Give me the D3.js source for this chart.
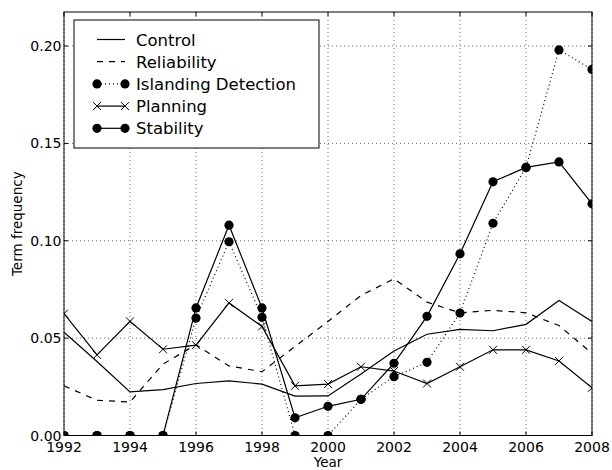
<!DOCTYPE html>
<html>
<head>
<meta charset="utf-8">
<script src="https://d3js.org/d3.v7.min.js"></script>
<style>
  body { margin: 0; background: #fff; }
  svg { font-family: "DejaVu Sans", sans-serif; }
</style>
</head>
<body>
<div id="chart"></div>
<script>
// data
var years = d3.range(1992, 2009);
var control     = [0.053, 0.038, 0.0224, 0.0236, 0.0267, 0.0281, 0.0264, 0.0202, 0.0203, 0.0316, 0.0434, 0.052, 0.0545, 0.0538, 0.0571, 0.0693, 0.0586];
var reliability = [0.0255, 0.0181, 0.0172, 0.0367, 0.0466, 0.0357, 0.0328, 0.0457, 0.0586, 0.0719, 0.0805, 0.0685, 0.063, 0.0643, 0.0630, 0.0565, 0.0422];
var islanding   = [0, 0, 0, 0, 0.0603, 0.0995, 0.0607, 0, 0, 0.0186, 0.0302, 0.0376, 0.0629, 0.109, 0.1377, 0.198, 0.188];
var planning    = [0.0626, 0.0414, 0.0586, 0.0443, 0.0464, 0.0681, 0.056, 0.0255, 0.0264, 0.0353, 0.0331, 0.0267, 0.0353, 0.044, 0.044, 0.0383, 0.0245];
var stability   = [0, 0, 0, 0, 0.0655, 0.108, 0.0655, 0.0091, 0.015, 0.0186, 0.0371, 0.0612, 0.0933, 0.1303, 0.1377, 0.1405, 0.119];
var xTicks = [1992, 1994, 1996, 1998, 2000, 2002, 2004, 2006, 2008];
var yTicks = [0, 0.05, 0.10, 0.15, 0.20];

var series = [
  {name: "Control", values: control, dash: null, marker: null},
  {name: "Reliability", values: reliability, dash: "6,6", marker: null},
  {name: "Islanding Detection", values: islanding, dash: "1,3", marker: "dot"},
  {name: "Planning", values: planning, dash: null, marker: "x"},
  {name: "Stability", values: stability, dash: null, marker: "dot"}
];

var W = 612, H = 470;
var pl = 64, pr = 592, pt = 12, pb = 435.5;

var x = d3.scaleLinear().domain([1992, 2008]).range([pl, pr]);
var y = d3.scaleLinear().domain([0, 0.2175]).range([pb, pt]);

var svg = d3.select("#chart").append("svg")
  .attr("width", W).attr("height", H);

svg.append("defs").append("clipPath").attr("id", "clip")
  .append("rect")
  .attr("x", pl).attr("y", pt)
  .attr("width", pr - pl).attr("height", pb - pt);

// grid
var grid = svg.append("g");
grid.selectAll("line.gx").data(xTicks).enter().append("line")
  .attr("x1", function(d) { return x(d); }).attr("x2", function(d) { return x(d); })
  .attr("y1", pt).attr("y2", pb)
  .attr("stroke", "#000").attr("stroke-width", 0.6).attr("stroke-dasharray", "1,3");
grid.selectAll("line.gy").data(yTicks).enter().append("line")
  .attr("y1", function(d) { return y(d); }).attr("y2", function(d) { return y(d); })
  .attr("x1", pl).attr("x2", pr)
  .attr("stroke", "#000").attr("stroke-width", 0.6).attr("stroke-dasharray", "1,3");

// lines
var plot = svg.append("g").attr("clip-path", "url(#clip)");
var line = d3.line()
  .x(function(d, i) { return x(years[i]); })
  .y(function(d) { return y(d); });

function drawMarker(g, type, cx, cy) {
  if (type == "dot") {
    g.append("circle").attr("cx", cx).attr("cy", cy).attr("r", 4.6).attr("fill", "#000");
  } else if (type == "x") {
    g.append("path")
      .attr("d", "M" + (cx - 4) + "," + (cy - 4) + "L" + (cx + 4) + "," + (cy + 4) +
                 "M" + (cx - 4) + "," + (cy + 4) + "L" + (cx + 4) + "," + (cy - 4))
      .attr("stroke", "#000").attr("stroke-width", 1).attr("fill", "none");
  }
}

series.forEach(function(s) {
  plot.append("path")
    .datum(s.values)
    .attr("d", line)
    .attr("fill", "none")
    .attr("stroke", "#000")
    .attr("stroke-width", 1.2)
    .attr("stroke-dasharray", s.dash);
  if (s.marker) {
    s.values.forEach(function(v, i) {
      drawMarker(plot, s.marker, x(years[i]), y(v));
    });
  }
});

// frame
svg.append("rect")
  .attr("x", pl).attr("y", pt)
  .attr("width", pr - pl).attr("height", pb - pt)
  .attr("fill", "none").attr("stroke", "#000").attr("stroke-width", 1);

// ticks (inward, all four sides)
var axes = svg.append("g").attr("stroke", "#000").attr("stroke-width", 1);
xTicks.forEach(function(t) {
  axes.append("line").attr("x1", x(t)).attr("x2", x(t)).attr("y1", pb).attr("y2", pb - 4);
  axes.append("line").attr("x1", x(t)).attr("x2", x(t)).attr("y1", pt).attr("y2", pt + 4);
});
yTicks.forEach(function(t) {
  axes.append("line").attr("y1", y(t)).attr("y2", y(t)).attr("x1", pl).attr("x2", pl + 4);
  axes.append("line").attr("y1", y(t)).attr("y2", y(t)).attr("x1", pr).attr("x2", pr - 4);
});

// tick labels
svg.selectAll("text.xt").data(xTicks).enter().append("text")
  .attr("x", function(d) { return x(d); })
  .attr("y", pb + 16)
  .attr("text-anchor", "middle")
  .style("font-size", "14px")
  .text(function(d) { return d; });
svg.selectAll("text.yt").data(yTicks).enter().append("text")
  .attr("x", pl - 2.5)
  .attr("y", function(d) { return y(d) + 5; })
  .attr("text-anchor", "end")
  .style("font-size", "14px")
  .text(function(d) { return d.toFixed(2); });

// axis labels
svg.append("text")
  .attr("x", (pl + pr) / 2).attr("y", 467)
  .attr("text-anchor", "middle")
  .style("font-size", "13.5px")
  .text("Year");
svg.append("text")
  .attr("transform", "translate(22," + ((pt + pb) / 2) + ") rotate(-90)")
  .attr("text-anchor", "middle")
  .style("font-size", "13.5px")
  .text("Term frequency");

// legend
var lg = svg.append("g");
lg.append("rect")
  .attr("x", 74).attr("y", 20).attr("width", 245).attr("height", 128)
  .attr("fill", "#fff").attr("stroke", "#000").attr("stroke-width", 1);
series.forEach(function(s, i) {
  var ly = 39.5 + i * 22.2;
  lg.append("line")
    .attr("x1", 97).attr("x2", 125).attr("y1", ly).attr("y2", ly)
    .attr("stroke", "#000").attr("stroke-width", 1.2)
    .attr("stroke-dasharray", s.dash);
  if (s.marker) {
    drawMarker(lg, s.marker, 97, ly);
    drawMarker(lg, s.marker, 125, ly);
  }
  lg.append("text")
    .attr("x", 136).attr("y", ly + 6)
    .style("font-size", "16.5px")
    .text(s.name);
});
</script>
</body>
</html>
